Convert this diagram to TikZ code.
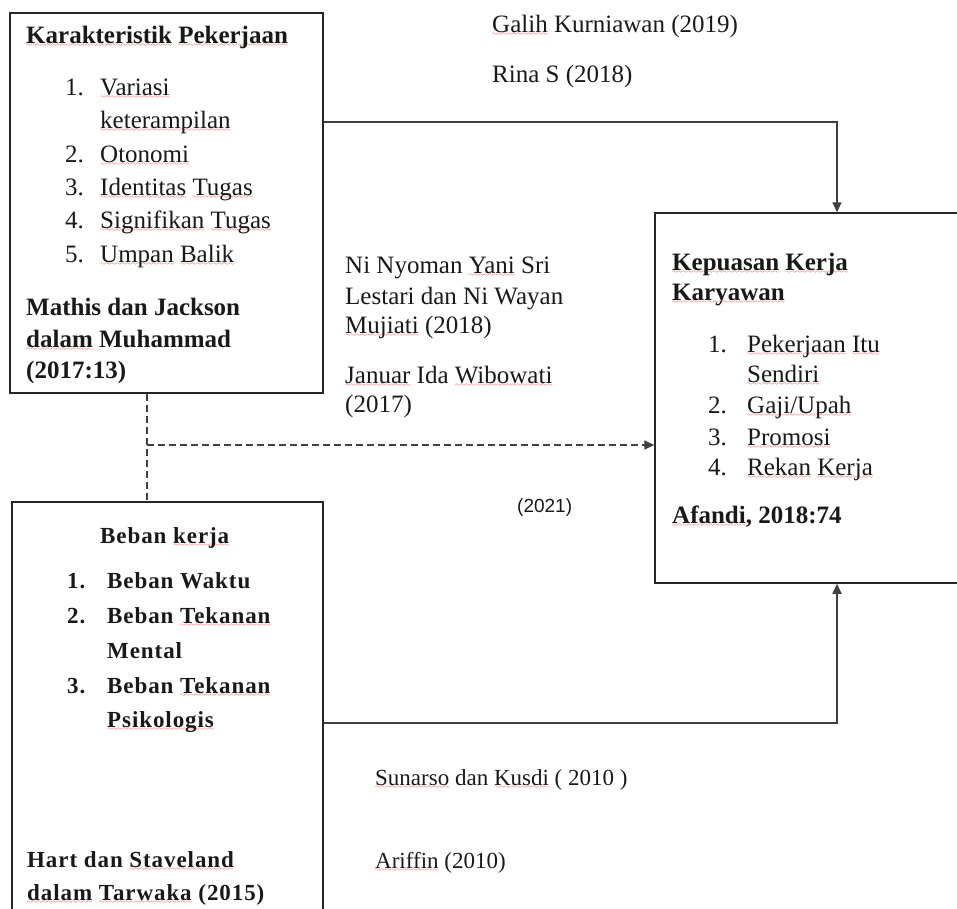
\documentclass[tikz,border=0pt]{standalone}
\usepackage{fontspec}
\setmainfont{Liberation Serif}
\newfontfamily\bebfont[LetterSpace=4]{Liberation Serif}
\newfontfamily\arialfont{Liberation Sans}
\usetikzlibrary{arrows.meta}
\font\wavy=lasy6
\newsavebox\sqbox
\newcommand\sq[1]{\sbox\sqbox{#1}\rlap{\textcolor{red}{\lower3.5pt\hbox to\wd\sqbox{\xleaders\hbox{\wavy\char58}\hfill}}}\usebox\sqbox}
\tikzset{
  box/.style={draw=black!85, line width=1.5pt, inner sep=0pt},
  txt/.style={anchor=base west, inner sep=0pt, text=black!90, font=\fontsize{25}{30}\selectfont},
  btxt/.style={txt, font=\fontsize{25}{30}\selectfont\bfseries},
  beb/.style={txt, font=\fontsize{23}{30}\selectfont\bebfont\bfseries},
  conn/.style={draw=black!75, line width=1.8pt},
  arr/.style={conn, -{Triangle[length=10pt,width=9pt]}},
  dsh/.style={conn, dash pattern=on 7pt off 4pt}
}
\begin{document}
\begin{tikzpicture}[x=1pt,y=-1pt]
\useasboundingbox (0,0) rectangle (957,908);
\fill[white] (0,0) rectangle (957,908);
% boxes
\node[box, minimum width=313pt, minimum height=380pt] (k) at (166.5,203) {};
\node[box, minimum width=320pt, minimum height=370pt] (kep) at (815,398) {};
\node[box, minimum width=311pt, minimum height=428pt] (beb) at (167.5,716) {};
% connectors
\draw[arr] (k.east |- 0,122) -| (kep.north -| 837,0);
\draw[dsh] (k.south -| 147,0) -- (beb.north -| 147,0);
\coordinate (d) at (147,445);
\draw[dsh, -{Triangle[length=10pt,width=9pt]}] (d) -- (kep.west |- d);
\draw[arr] (beb.east |- 0,723) -| (kep.south -| 837,0);
% box 1 texts
\node[btxt] (k0) at (26,43) {\sq{Karakteristik} \sq{Pekerjaan}};
\node[txt] (k1n) at (65,95) {1.};
\node[txt] (k1) at (100,95) {\sq{Variasi}};
\node[txt] (k1b) at (100,128) {\sq{keterampilan}};
\node[txt] (k2n) at (65,162) {2.};
\node[txt] (k2) at (100,162) {\sq{Otonomi}};
\node[txt] (k3n) at (65,195) {3.};
\node[txt] (k3) at (100,195) {\sq{Identitas} \sq{Tugas}};
\node[txt] (k4n) at (65,228) {4.};
\node[txt] (k4) at (100,228) {\sq{Signifikan} \sq{Tugas}};
\node[txt] (k5n) at (65,262) {5.};
\node[txt] (k5) at (100,262) {\sq{Umpan} \sq{Balik}};
\node[btxt] (ks1) at (26,315) {Mathis dan Jackson};
\node[btxt] (ks2) at (26,347) {\sq{dalam} Muhammad};
\node[btxt] (ks3) at (26,378) {(2017:13)};
% middle texts
\node[txt] (m1) at (492,32) {\sq{Galih} Kurniawan (2019)};
\node[txt] (m2) at (492,82) {Rina S (2018)};
\node[txt] (m3) at (345,273) {Ni Nyoman \sq{Yani} Sri};
\node[txt] (m4) at (345,304) {Lestari dan Ni Wayan};
\node[txt] (m5) at (345,333) {\sq{Mujiati} (2018)};
\node[txt] (m6) at (345,383) {\sq{Januar} Ida \sq{Wibowati}};
\node[txt] (m7) at (345,412) {(2017)};
\node[txt, font=\fontsize{19}{24}\selectfont\arialfont] (m8) at (517,512) {(2021)};
\node[txt, font=\fontsize{23}{28}\selectfont] (m9) at (375,785) {\sq{Sunarso} dan \sq{Kusdi} ( 2010 )};
\node[txt, font=\fontsize{23}{28}\selectfont] (m10) at (375,868) {\sq{Ariffin} (2010)};
% box 3 texts
\node[btxt] (p0) at (672,270) {\sq{Kepuasan} \sq{Kerja}};
\node[btxt] (p0b) at (672,300) {\sq{Karyawan}};
\node[txt] (p1n) at (708,352) {1.};
\node[txt] (p1) at (747,352) {\sq{Pekerjaan} \sq{Itu}};
\node[txt] (p1b) at (747,382) {\sq{Sendiri}};
\node[txt] (p2n) at (708,413) {2.};
\node[txt] (p2) at (747,413) {\sq{Gaji/Upah}};
\node[txt] (p3n) at (708,445) {3.};
\node[txt] (p3) at (747,445) {\sq{Promosi}};
\node[txt] (p4n) at (708,475) {4.};
\node[txt] (p4) at (747,475) {\sq{Rekan} \sq{Kerja}};
\node[btxt] (ps) at (672,523) {\sq{Afandi}, 2018:74};
% box 2 texts
\node[beb] (b0) at (100,543) {Beban \sq{kerja}};
\node[beb] (b1n) at (67,588) {1.};
\node[beb] (b1) at (107,588) {Beban Waktu};
\node[beb] (b2n) at (67,623) {2.};
\node[beb] (b2) at (107,623) {Beban \sq{Tekanan}};
\node[beb] (b2b) at (107,658) {Mental};
\node[beb] (b3n) at (67,693) {3.};
\node[beb] (b3) at (107,693) {Beban \sq{Tekanan}};
\node[beb] (b3b) at (107,727) {\sq{Psikologis}};
\node[beb] (bs1) at (27,867) {Hart dan \sq{Staveland}};
\node[beb] (bs2) at (27,900) {\sq{dalam} \sq{Tarwaka} (2015)};
\end{tikzpicture}
\end{document}
